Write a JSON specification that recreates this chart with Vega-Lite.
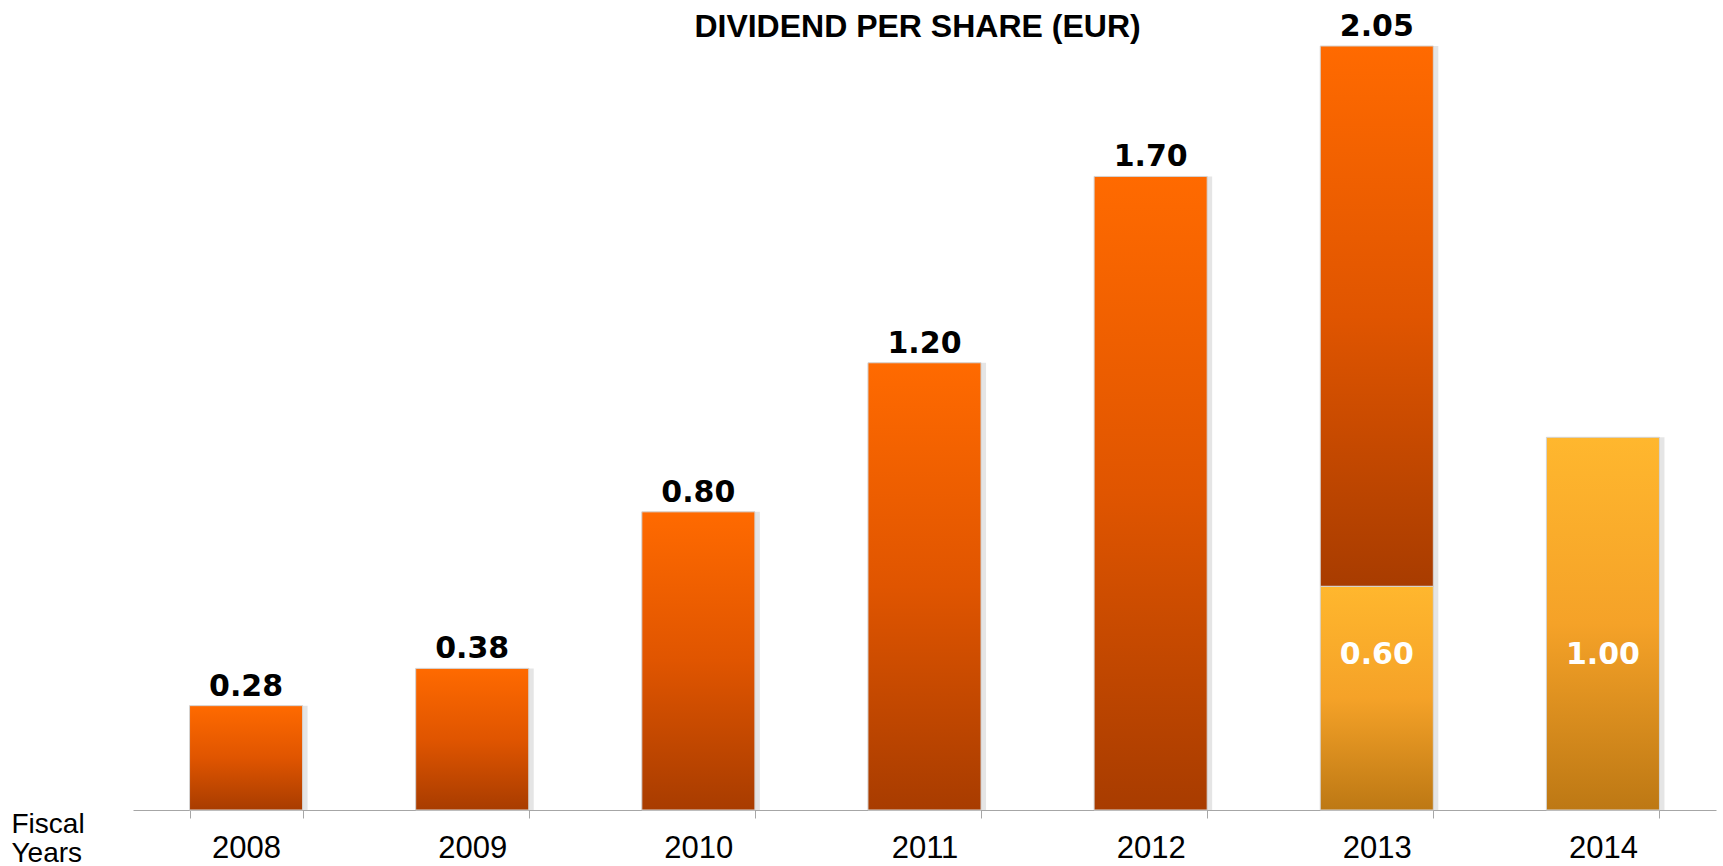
{
  "$schema": "https://vega.github.io/schema/vega-lite/v6.json",
  "autosize": "none",
  "width": 1583,
  "height": 764,
  "padding": {"left": 133, "top": 46, "right": 7, "bottom": 56},
  "background": "white",
  "title": {
    "text": "DIVIDEND PER SHARE (EUR)",
    "font": "Liberation Sans",
    "fontSize": 32,
    "fontWeight": "bold",
    "color": "#000000",
    "anchor": "middle",
    "frame": "group",
    "baseline": "alphabetic",
    "offset": 0,
    "dy": 57,
    "dx": -7
  },
  "config": {"view": {"stroke": null}},
  "data": {
    "values": [
      {"year": "2008", "type": "Ordinary", "dps": 0.28},
      {"year": "2009", "type": "Ordinary", "dps": 0.38},
      {"year": "2010", "type": "Ordinary", "dps": 0.80},
      {"year": "2011", "type": "Ordinary", "dps": 1.20},
      {"year": "2012", "type": "Ordinary", "dps": 1.70},
      {"year": "2013", "type": "Ordinary", "dps": 1.45},
      {"year": "2013", "type": "Special", "dps": 0.60},
      {"year": "2014", "type": "Special", "dps": 1.00}
    ]
  },
  "encoding": {
    "x": {
      "field": "year",
      "type": "ordinal",
      "scale": {"paddingInner": 0.5, "paddingOuter": 0.25},
      "axis": {
        "labelAngle": 0,
        "labelFont": "Liberation Sans",
        "labelFontSize": 31,
        "labelColor": "#000000",
        "labelPadding": 15,
        "domainColor": "#a6a6a6",
        "domainWidth": 1,
        "tickColor": "#a6a6a6",
        "tickSize": 8,
        "tickBand": "extent",
        "grid": false,
        "title": ["Fiscal", "Years"],
        "titleFont": "Liberation Sans",
        "titleFontSize": 28,
        "titleFontWeight": "normal",
        "titleColor": "#000000",
        "titleAlign": "left",
        "titleBaseline": "alphabetic",
        "titleX": -122,
        "titleY": 22,
        "titleLineHeight": 29
      }
    }
  },
  "layer": [
    {
      "mark": {"type": "bar", "fill": "#000000", "fillOpacity": 0.1, "xOffset": 5},
      "encoding": {
        "y": {
          "field": "dps",
          "type": "quantitative",
          "stack": "zero",
          "scale": {"domain": [0, 2.05], "nice": false},
          "axis": null
        },
        "detail": {"field": "type"},
        "order": {"field": "type", "sort": "descending"}
      }
    },
    {
      "mark": {"type": "bar", "stroke": "#d4d4d4", "strokeWidth": 1},
      "encoding": {
        "y": {
          "field": "dps",
          "type": "quantitative",
          "stack": "zero"
        },
        "detail": {"field": "type"},
        "order": {"field": "type", "sort": "descending"},
        "fill": {
          "condition": {
            "test": "datum.type === 'Special'",
            "value": {
              "gradient": "linear", "x1": 0, "y1": 0, "x2": 0, "y2": 1,
              "stops": [
                {"offset": 0, "color": "#ffb72e"},
                {"offset": 0.5, "color": "#f5a228"},
                {"offset": 1, "color": "#bd7814"}
              ]
            }
          },
          "value": {
            "gradient": "linear", "x1": 0, "y1": 0, "x2": 0, "y2": 1,
            "stops": [
              {"offset": 0, "color": "#ff6a00"},
              {"offset": 0.5, "color": "#e05500"},
              {"offset": 1, "color": "#a83c00"}
            ]
          }
        }
      }
    },
    {
      "transform": [
        {"joinaggregate": [{"op": "sum", "field": "dps", "as": "total"}], "groupby": ["year"]},
        {"filter": "datum.type === 'Ordinary'"}
      ],
      "mark": {
        "type": "text",
        "font": "DejaVu Sans",
        "fontSize": 30,
        "fontWeight": "bold",
        "color": "#000000",
        "baseline": "alphabetic",
        "dy": -10
      },
      "encoding": {
        "y": {"field": "total", "type": "quantitative"},
        "text": {"field": "total", "type": "quantitative", "format": ".2f"}
      }
    },
    {
      "transform": [{"filter": "datum.type === 'Special'"}],
      "mark": {
        "type": "text",
        "font": "DejaVu Sans",
        "fontSize": 30,
        "fontWeight": "bold",
        "color": "#ffffff",
        "baseline": "middle"
      },
      "encoding": {
        "y": {"datum": 0.416, "type": "quantitative"},
        "text": {"field": "dps", "type": "quantitative", "format": ".2f"}
      }
    }
  ]
}
